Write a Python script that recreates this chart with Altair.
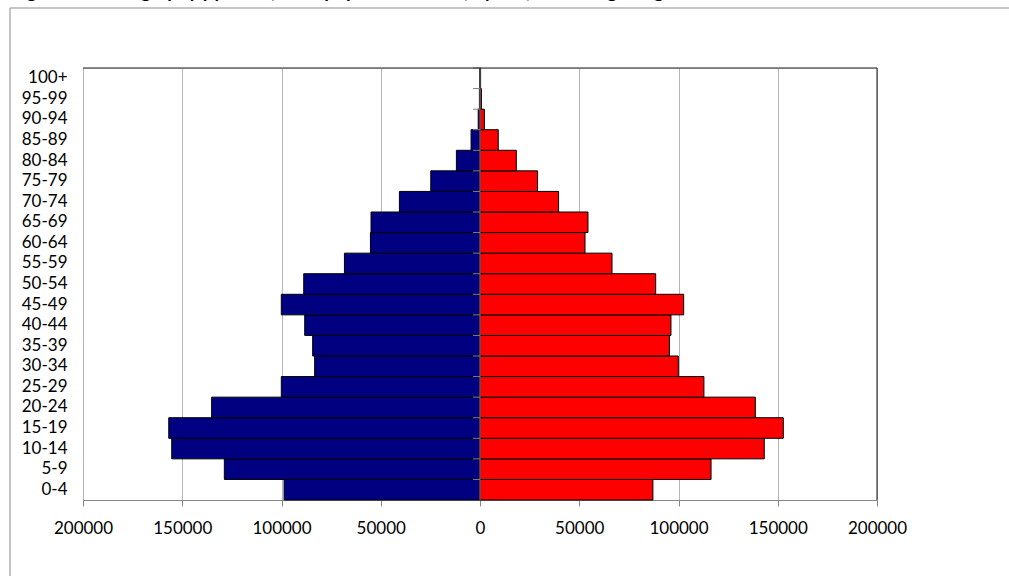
import altair as alt
import pandas as pd

# Age groups from youngest to oldest
ages = ["0-4", "5-9", "10-14", "15-19", "20-24", "25-29", "30-34", "35-39",
        "40-44", "45-49", "50-54", "55-59", "60-64", "65-69", "70-74", "75-79",
        "80-84", "85-89", "90-94", "95-99", "100+"]

# Population counts per age group
male = [98700, 128800, 155300, 156800, 135200, 100100, 83300, 84300, 88300,
        100100, 88800, 68300, 55200, 54900, 40600, 24800, 11900, 4500, 900, 300, 200]
female = [87100, 116400, 143200, 152800, 138700, 112800, 99900, 95400, 96200,
          102600, 88500, 66500, 52900, 54400, 39600, 29000, 18300, 9200, 2200, 700, 300]

x_ticks = [-200000, -150000, -100000, -50000, 0, 50000, 100000, 150000, 200000]
title_text = "Figure 1: Demography pyramid, total population 2011, by sex, according to age"

FONT = "Lato"
W, H = 794, 432
LEFT, TOP = 83, 68
RIGHT = 1009 - LEFT - W
BOTTOM = 582 - TOP - H - 6
PAD = {"left": LEFT, "top": TOP, "right": RIGHT, "bottom": BOTTOM}

wide = pd.DataFrame({"age": ages, "male": male, "female": female})
top_down = list(reversed(ages))

y_enc = alt.Y(
    "age:N",
    sort=top_down,
    scale=alt.Scale(paddingInner=0, paddingOuter=0),
    axis=alt.Axis(title=None, domain=False, ticks=False, labelPadding=16,
                  labelFont=FONT, labelFontSize=17, labelColor="#000000"),
)

bars = (
    alt.Chart(wide)
    .transform_fold(["male", "female"], as_=["sex", "count"])
    .transform_calculate(signed="datum.sex == 'male' ? -datum.count : datum.count")
    .mark_bar(stroke="#000000", strokeWidth=1)
    .encode(
        x=alt.X(
            "signed:Q",
            scale=alt.Scale(domain=[-200000, 200000], nice=False),
            axis=alt.Axis(
                title=None, values=x_ticks, labelExpr="abs(datum.value)",
                grid=True, gridColor="#b5b5b5", gridWidth=1,
                domain=True, domainColor="#868686",
                tickSize=6, tickColor="#868686", labelPadding=14,
                labelFont=FONT, labelFontSize=17, labelColor="#000000",
                labelFlush=False,
            ),
        ),
        y=y_enc,
        color=alt.Color(
            "sex:N",
            scale=alt.Scale(domain=["male", "female"], range=["#000080", "#FF0000"]),
            legend=None,
        ),
    )
)

# Vertical category axis through zero, with small ticks at group boundaries
zero_line = (
    alt.Chart(alt.Data(values=[{}]))
    .mark_rule(color="#808080", strokeWidth=1)
    .encode(x=alt.value(W / 2), y=alt.value(0), y2=alt.value(H))
)
zero_ticks = (
    alt.Chart(wide)
    .mark_rule(color="#808080", strokeWidth=1)
    .encode(
        x=alt.value(W / 2 - 7), x2=alt.value(W / 2),
        y=alt.Y("age:N", sort=top_down, bandPosition=0),
    )
)

# Plot-area border, dark on top and right
plot_border = (
    alt.Chart(alt.Data(values=[{}]))
    .mark_rule(color="#1a1a1a", strokeWidth=1)
    .encode(x=alt.value(0), x2=alt.value(W), y=alt.value(0))
)
plot_border_r = (
    alt.Chart(alt.Data(values=[{}]))
    .mark_rule(color="#1a1a1a", strokeWidth=1)
    .encode(x=alt.value(W), y=alt.value(0), y2=alt.value(H))
)

# Outer chart-area frame (left and top edges only are in view)
frame_top = (
    alt.Chart(alt.Data(values=[{}]))
    .mark_rule(color="#8c8c8c", strokeWidth=1)
    .encode(x=alt.value(-73), x2=alt.value(W + RIGHT), y=alt.value(-60))
)
frame_left = (
    alt.Chart(alt.Data(values=[{}]))
    .mark_rule(color="#8c8c8c", strokeWidth=1)
    .encode(x=alt.value(-73), y=alt.value(-60), y2=alt.value(H + BOTTOM))
)

title = (
    alt.Chart(alt.Data(values=[{}]))
    .mark_text(align="left", baseline="alphabetic", font=FONT, fontSize=19,
               fontWeight="bold", color="#000000")
    .encode(x=alt.value(-72), y=alt.value(-70), text=alt.value(title_text))
)

chart = (
    alt.layer(frame_top, frame_left, bars, zero_line, zero_ticks,
              plot_border, plot_border_r, title)
    .properties(width=W, height=H, padding=PAD,
                autosize=alt.AutoSizeParams(type="none"))
    .configure_view(stroke="#1a1a1a", strokeWidth=1)
    .configure(background="#ffffff")
)

chart.save("out.html", embed_options={"renderer": "svg", "actions": False})
